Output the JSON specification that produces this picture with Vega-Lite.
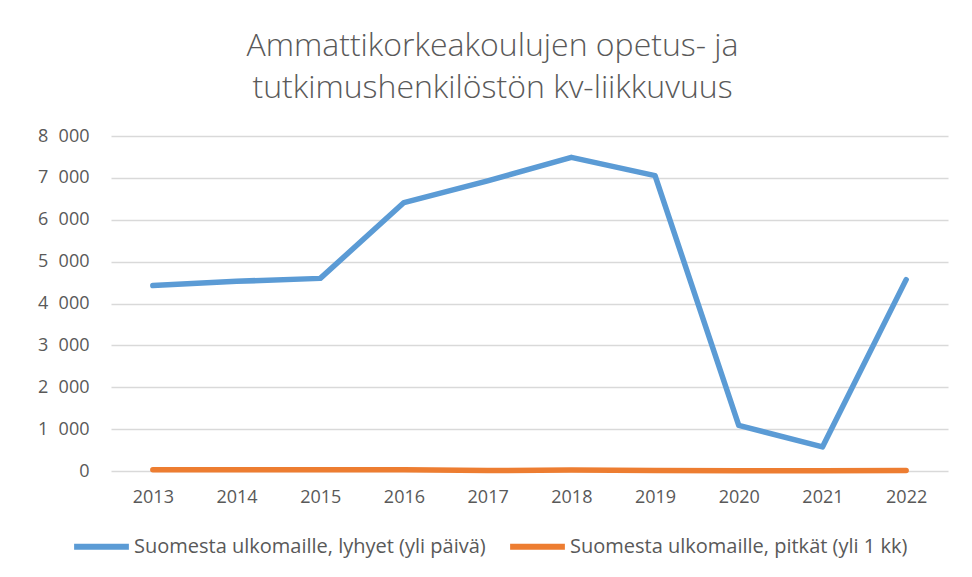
{
  "$schema": "https://vega.github.io/schema/vega-lite/v6.json",
  "width": 837,
  "height": 335,
  "autosize": "none",
  "padding": {"left": 111, "top": 136, "right": 24, "bottom": 106},
  "background": "white",
  "title": {
    "text": ["Ammattikorkeakoulujen opetus- ja", "tutkimushenkilöstön kv-liikkuvuus"],
    "font": "Open Sans",
    "fontSize": 32,
    "fontWeight": 300,
    "color": "#595959",
    "anchor": "middle",
    "dx": -37,
    "lineHeight": 42,
    "offset": 22
  },
  "data": {
    "values": [
      {"vuosi": "2013", "sarja": "Suomesta ulkomaille, lyhyet (yli päivä)", "arvo": 4430},
      {"vuosi": "2014", "sarja": "Suomesta ulkomaille, lyhyet (yli päivä)", "arvo": 4530},
      {"vuosi": "2015", "sarja": "Suomesta ulkomaille, lyhyet (yli päivä)", "arvo": 4600},
      {"vuosi": "2016", "sarja": "Suomesta ulkomaille, lyhyet (yli päivä)", "arvo": 6410},
      {"vuosi": "2017", "sarja": "Suomesta ulkomaille, lyhyet (yli päivä)", "arvo": 6930},
      {"vuosi": "2018", "sarja": "Suomesta ulkomaille, lyhyet (yli päivä)", "arvo": 7490},
      {"vuosi": "2019", "sarja": "Suomesta ulkomaille, lyhyet (yli päivä)", "arvo": 7055},
      {"vuosi": "2020", "sarja": "Suomesta ulkomaille, lyhyet (yli päivä)", "arvo": 1090},
      {"vuosi": "2021", "sarja": "Suomesta ulkomaille, lyhyet (yli päivä)", "arvo": 575},
      {"vuosi": "2022", "sarja": "Suomesta ulkomaille, lyhyet (yli päivä)", "arvo": 4570},
      {"vuosi": "2013", "sarja": "Suomesta ulkomaille, pitkät (yli 1 kk)", "arvo": 30},
      {"vuosi": "2014", "sarja": "Suomesta ulkomaille, pitkät (yli 1 kk)", "arvo": 30},
      {"vuosi": "2015", "sarja": "Suomesta ulkomaille, pitkät (yli 1 kk)", "arvo": 30},
      {"vuosi": "2016", "sarja": "Suomesta ulkomaille, pitkät (yli 1 kk)", "arvo": 30},
      {"vuosi": "2017", "sarja": "Suomesta ulkomaille, pitkät (yli 1 kk)", "arvo": 10},
      {"vuosi": "2018", "sarja": "Suomesta ulkomaille, pitkät (yli 1 kk)", "arvo": 25},
      {"vuosi": "2019", "sarja": "Suomesta ulkomaille, pitkät (yli 1 kk)", "arvo": 10},
      {"vuosi": "2020", "sarja": "Suomesta ulkomaille, pitkät (yli 1 kk)", "arvo": 5},
      {"vuosi": "2021", "sarja": "Suomesta ulkomaille, pitkät (yli 1 kk)", "arvo": 5},
      {"vuosi": "2022", "sarja": "Suomesta ulkomaille, pitkät (yli 1 kk)", "arvo": 10}
    ]
  },
  "mark": {"type": "line", "strokeWidth": 5.5, "strokeCap": "round", "strokeJoin": "round"},
  "encoding": {
    "x": {
      "field": "vuosi",
      "type": "ordinal",
      "scale": {"type": "point", "padding": 0.5},
      "axis": {
        "title": null,
        "labelAngle": 0,
        "domain": false,
        "ticks": false,
        "grid": false,
        "labelPadding": 17,
        "labelFontSize": 18,
        "labelFont": "Open Sans",
        "labelColor": "#595959"
      }
    },
    "y": {
      "field": "arvo",
      "type": "quantitative",
      "scale": {"domain": [0, 8000], "nice": false},
      "axis": {
        "title": null,
        "values": [0, 1000, 2000, 3000, 4000, 5000, 6000, 7000, 8000],
        "format": ",d",
        "domain": false,
        "ticks": false,
        "grid": true,
        "gridColor": "#D9D9D9",
        "gridWidth": 1.5,
        "labelPadding": 22,
        "labelFontSize": 18,
        "labelFont": "Open Sans",
        "labelColor": "#595959"
      }
    },
    "color": {
      "field": "sarja",
      "type": "nominal",
      "scale": {
        "domain": ["Suomesta ulkomaille, lyhyet (yli päivä)", "Suomesta ulkomaille, pitkät (yli 1 kk)"],
        "range": ["#5B9BD5", "#ED7D31"]
      },
      "legend": {
        "title": null,
        "orient": "none",
        "legendX": -40,
        "legendY": 380,
        "direction": "horizontal",
        "symbolType": "stroke",
        "symbolSize": 3000,
        "symbolStrokeWidth": 6,
        "labelFontSize": 20,
        "labelFont": "Open Sans",
        "labelColor": "#595959",
        "labelLimit": 500,
        "labelOffset": 2,
        "columnPadding": 12
      }
    }
  },
  "config": {
    "view": {"stroke": null},
    "locale": {"number": {"decimal": ",", "thousands": "\u2007", "grouping": [3], "currency": ["", " €"]}}
  }
}
